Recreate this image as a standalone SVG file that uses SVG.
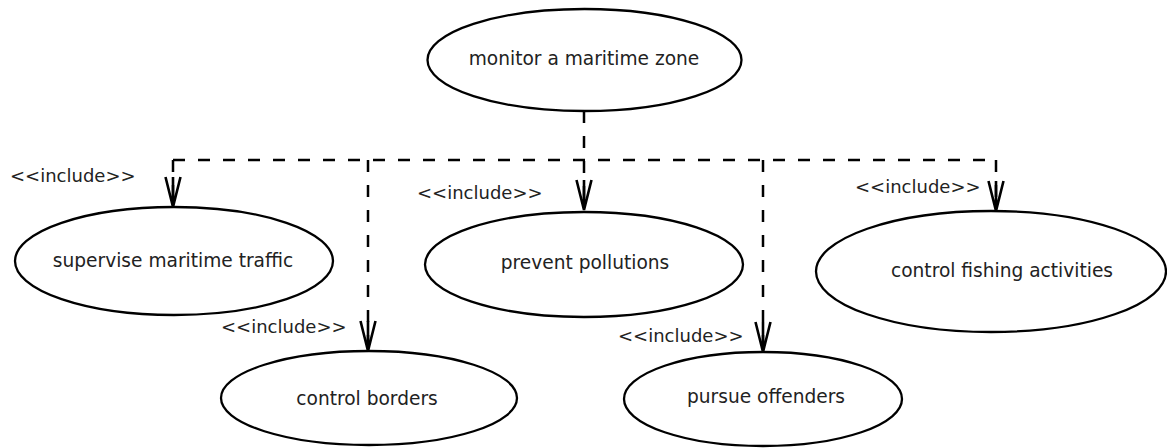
<svg xmlns="http://www.w3.org/2000/svg" width="1167" height="448" viewBox="0 0 1167 448">
<style>
.uc ellipse{fill:#fff;stroke:#000;stroke-width:2.3}
.uc text{font-family:"DejaVu Sans","Liberation Sans",sans-serif;font-size:18.6px;fill:#222;text-anchor:middle}
.lbl{font-family:"DejaVu Sans","Liberation Sans",sans-serif;font-size:18px;fill:#222}
.dep{fill:none;stroke:#000;stroke-width:2.5;stroke-dasharray:12 13}
</style>
<defs>
<marker id="open" markerUnits="userSpaceOnUse" markerWidth="40" markerHeight="24" viewBox="-32 -12 40 24" refX="0" refY="0" orient="auto">
<path d="M-30,-7.5 L0,0 L-30,7.5 M-30,0 L0,0" fill="none" stroke="#000" stroke-width="2.6"/>
</marker>
</defs>
<rect width="1167" height="448" fill="#fff"/>
<g id="connectors">
<path class="dep" d="M173,160 H996"/>
<path class="dep" d="M584,111 V210" marker-end="url(#open)"/>
<path class="dep" d="M173,160 V207" marker-end="url(#open)"/>
<path class="dep" d="M368,160 V351" marker-end="url(#open)"/>
<path class="dep" d="M763,160 V352" marker-end="url(#open)"/>
<path class="dep" d="M996,160 V211" marker-end="url(#open)"/>
<text class="lbl" x="10" y="182">&lt;&lt;include&gt;&gt;</text>
<text class="lbl" x="417" y="199">&lt;&lt;include&gt;&gt;</text>
<text class="lbl" x="221" y="333">&lt;&lt;include&gt;&gt;</text>
<text class="lbl" x="618" y="342">&lt;&lt;include&gt;&gt;</text>
<text class="lbl" x="855" y="193">&lt;&lt;include&gt;&gt;</text>
</g>
<g id="monitor" class="uc">
<ellipse cx="584.5" cy="60" rx="157" ry="51"/>
<text x="584" y="65">monitor a maritime zone</text>
</g>
<g id="supervise" class="uc">
<ellipse cx="174" cy="261" rx="159" ry="54"/>
<text x="173" y="267">supervise maritime traffic</text>
</g>
<g id="prevent" class="uc">
<ellipse cx="584" cy="264.5" rx="159" ry="52.5"/>
<text x="585" y="269">prevent pollutions</text>
</g>
<g id="fishing" class="uc">
<ellipse cx="991" cy="271.5" rx="175" ry="60.5"/>
<text x="1002" y="277">control fishing activities</text>
</g>
<g id="borders" class="uc">
<ellipse cx="369" cy="398" rx="148" ry="47"/>
<text x="367" y="405">control borders</text>
</g>
<g id="pursue" class="uc">
<ellipse cx="763" cy="399" rx="139" ry="47"/>
<text x="766" y="403">pursue offenders</text>
</g>
</svg>
